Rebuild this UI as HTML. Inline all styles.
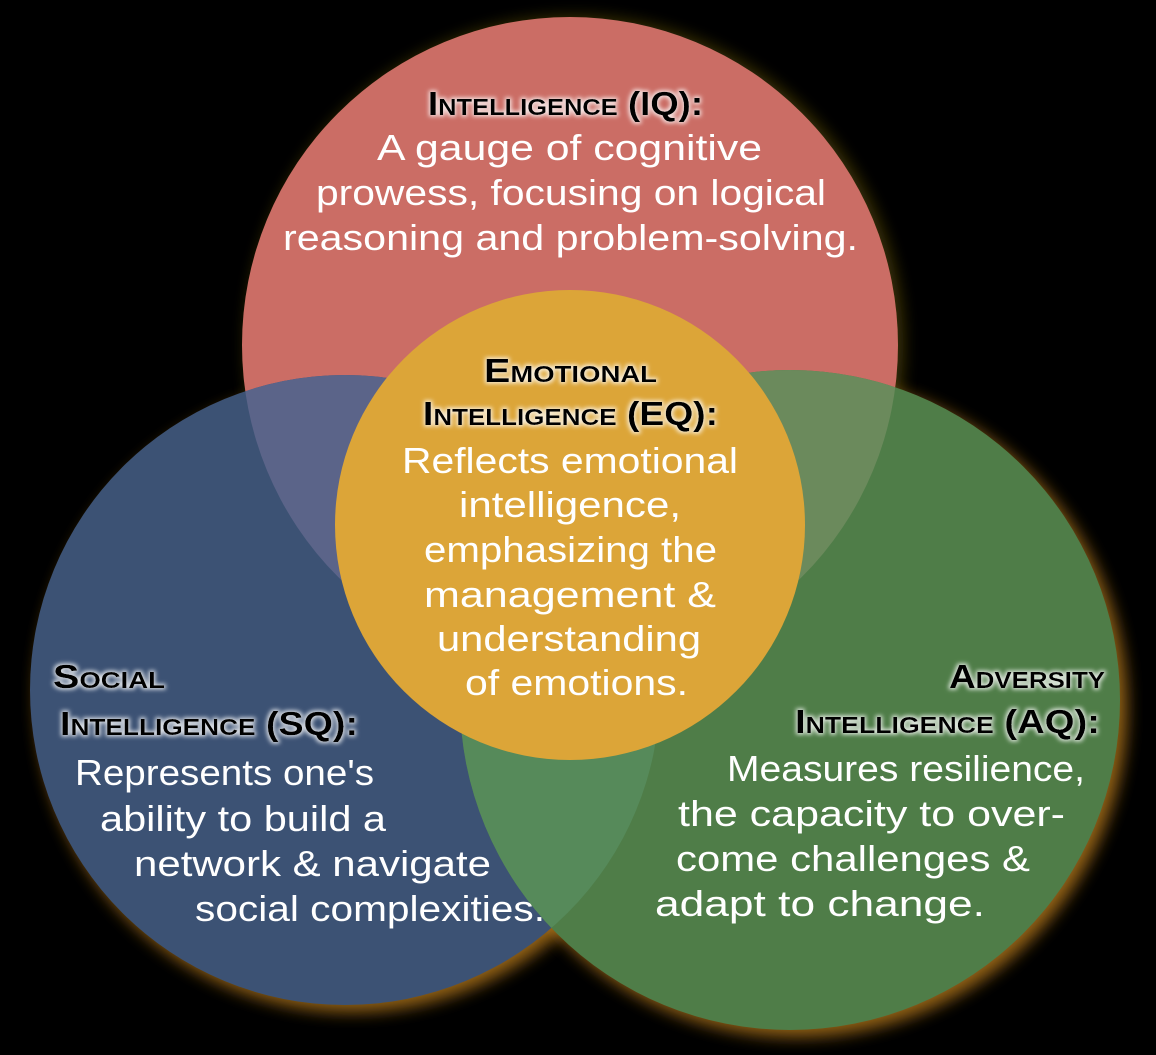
<!DOCTYPE html>
<html><head><meta charset="utf-8"><style>
html,body{margin:0;padding:0;background:#000;}
svg{display:block}
.h{font-family:"Liberation Sans",sans-serif;font-weight:bold;font-variant:small-caps;font-size:33px;fill:#000;}
.b{font-family:"Liberation Sans",sans-serif;font-size:36px;fill:#fff;}
</style></head><body>
<svg width="1156" height="1055" viewBox="0 0 1156 1055" xmlns="http://www.w3.org/2000/svg">
<defs>
<clipPath id="cr"><circle cx="570" cy="345" r="328"/></clipPath>
<clipPath id="cb"><circle cx="345" cy="690" r="315"/></clipPath>
<filter id="glow" x="-20%" y="-20%" width="140%" height="140%"><feGaussianBlur stdDeviation="8"/></filter>
<filter id="tg" x="-10%" y="-30%" width="120%" height="160%">
<feMorphology in="SourceAlpha" operator="dilate" radius="1.5" result="d"/>
<feGaussianBlur in="d" stdDeviation="2" result="bl"/>
<feFlood flood-color="#fff" flood-opacity="0.8"/><feComposite in2="bl" operator="in" result="w"/>
<feMerge><feMergeNode in="w"/><feMergeNode in="SourceGraphic"/></feMerge>
</filter>
</defs>
<rect width="1156" height="1055" fill="#000"/>
<circle cx="352" cy="697" r="315" fill="#b77a1c" filter="url(#glow)" opacity="0.8"/>
<circle cx="797" cy="707" r="330" fill="#b77a1c" filter="url(#glow)" opacity="0.8"/>
<circle cx="575" cy="345" r="328" fill="#6a5a10" filter="url(#glow)" opacity="0.6"/>
<circle cx="570" cy="345" r="328" fill="#cb6d65"/>
<circle cx="345" cy="690" r="315" fill="#3c5274"/>
<circle cx="790" cy="700" r="330" fill="#4f7d48"/>
<circle cx="790" cy="700" r="330" fill="#568a5a" clip-path="url(#cb)"/>
<circle cx="345" cy="690" r="315" fill="#5b6489" clip-path="url(#cr)"/>
<circle cx="790" cy="700" r="330" fill="#6b8a5c" clip-path="url(#cr)"/>
<circle cx="570" cy="525" r="235" fill="#dca538"/>

<g class="h" filter="url(#tg)">
<text x="428" y="115" textLength="275" lengthAdjust="spacingAndGlyphs">Intelligence (IQ):</text>
<text x="484" y="382" textLength="173" lengthAdjust="spacingAndGlyphs">Emotional</text>
<text x="423" y="425" textLength="295" lengthAdjust="spacingAndGlyphs">Intelligence (EQ):</text>
<text x="53" y="688" textLength="112" lengthAdjust="spacingAndGlyphs">Social</text>
<text x="60" y="735" textLength="298" lengthAdjust="spacingAndGlyphs">Intelligence (SQ):</text>
<text x="949" y="688" textLength="156" lengthAdjust="spacingAndGlyphs">Adversity</text>
<text x="795" y="733" textLength="305" lengthAdjust="spacingAndGlyphs">Intelligence (AQ):</text>
</g>
<g class="b">
<text x="377" y="160" textLength="385" lengthAdjust="spacingAndGlyphs">A gauge of cognitive</text>
<text x="316" y="205" textLength="510" lengthAdjust="spacingAndGlyphs">prowess, focusing on logical</text>
<text x="283" y="250" textLength="575" lengthAdjust="spacingAndGlyphs">reasoning and problem-solving.</text>

<text x="402" y="473" textLength="336" lengthAdjust="spacingAndGlyphs">Reflects emotional</text>
<text x="459" y="517" textLength="222" lengthAdjust="spacingAndGlyphs">intelligence,</text>
<text x="424" y="562" textLength="293" lengthAdjust="spacingAndGlyphs">emphasizing the</text>
<text x="424" y="607" textLength="292" lengthAdjust="spacingAndGlyphs">management &amp;</text>
<text x="437" y="651" textLength="264" lengthAdjust="spacingAndGlyphs">understanding</text>
<text x="465" y="695" textLength="223" lengthAdjust="spacingAndGlyphs">of emotions.</text>

<text x="75" y="785" textLength="299" lengthAdjust="spacingAndGlyphs">Represents one's</text>
<text x="100" y="831" textLength="286" lengthAdjust="spacingAndGlyphs">ability to build a</text>
<text x="134" y="876" textLength="357" lengthAdjust="spacingAndGlyphs">network &amp; navigate</text>
<text x="195" y="921" textLength="350" lengthAdjust="spacingAndGlyphs">social complexities.</text>

<text x="727" y="781" textLength="358" lengthAdjust="spacingAndGlyphs">Measures resilience,</text>
<text x="678" y="826" textLength="387" lengthAdjust="spacingAndGlyphs">the capacity to over-</text>
<text x="676" y="871" textLength="354" lengthAdjust="spacingAndGlyphs">come challenges &amp;</text>
<text x="655" y="916" textLength="330" lengthAdjust="spacingAndGlyphs">adapt to change.</text>
</g>
</svg>
</body></html>
